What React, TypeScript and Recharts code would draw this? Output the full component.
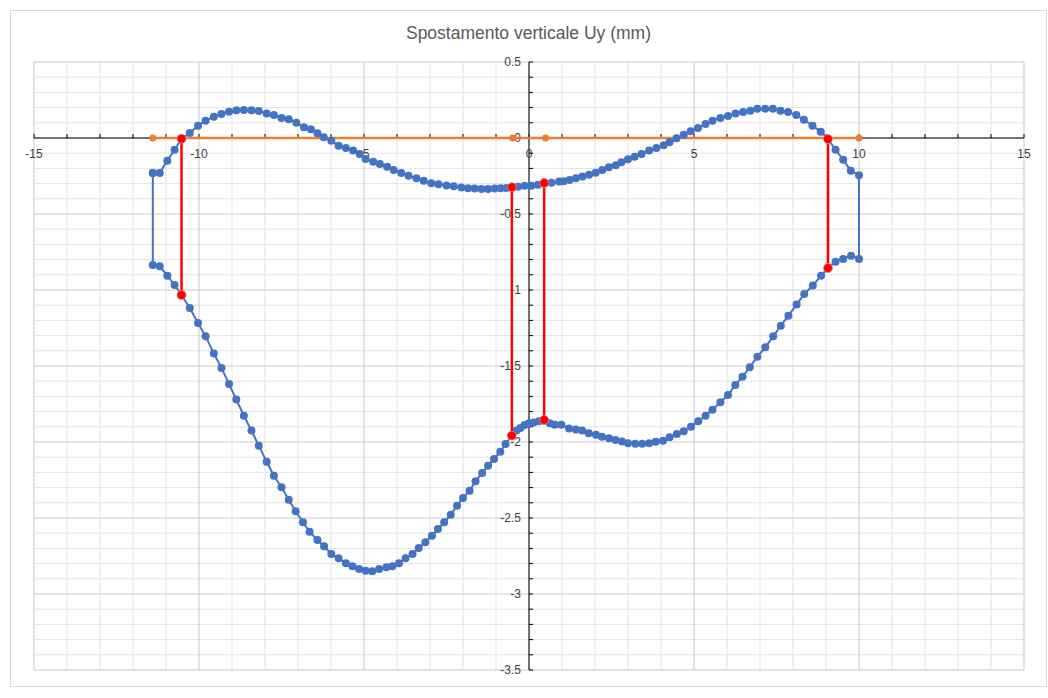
import React from 'react';
import {
  ReferenceDot,
  ReferenceLine,
  Scatter,
  ScatterChart,
  XAxis,
  YAxis,
} from 'recharts';

// upper branch of the deformed profile, read left to right
const upperX = [
  -11.4, -11.19, -10.96, -10.74, -10.53, -10.28, -10.03, -9.8, -9.55, -9.32, -9.09, -8.87, -8.64, -8.41,
  -8.19, -7.95, -7.73, -7.5, -7.28, -7.05, -6.82, -6.61, -6.41, -6.22, -5.99, -5.77, -5.55, -5.33,
  -5.13, -4.95, -4.72, -4.52, -4.3, -4.1, -3.87, -3.65, -3.41, -3.19, -2.96, -2.74, -2.5, -2.28,
  -2.05, -1.85, -1.65, -1.44, -1.24, -1.04, -0.86, -0.69, -0.52, -0.33, -0.13, 0.07, 0.27, 0.48,
  0.68, 0.91, 1.05, 1.23, 1.42, 1.62, 1.82, 2.02, 2.22, 2.42, 2.63, 2.8, 3.0, 3.2, 3.41, 3.64, 3.86,
  4.08, 4.26, 4.47, 4.69, 4.9, 5.12, 5.35, 5.56, 5.8, 6.03, 6.26, 6.49, 6.71, 6.92, 7.16, 7.39, 7.62,
  7.85, 8.1, 8.33, 8.59, 8.84, 9.06, 9.29, 9.52, 9.75, 10,
];
const upperY = [
  -0.23, -0.23, -0.149, -0.077, -0.005, 0.033, 0.081, 0.114, 0.14, 0.158, 0.173, 0.182, 0.184, 0.182,
  0.178, 0.162, 0.151, 0.132, 0.123, 0.101, 0.07, 0.057, 0.031, 0.005, -0.018, -0.051, -0.066, -0.083,
  -0.105, -0.138, -0.156, -0.171, -0.189, -0.211, -0.23, -0.248, -0.265, -0.281, -0.298, -0.305, -0.312,
  -0.318, -0.326, -0.33, -0.333, -0.336, -0.336, -0.333, -0.331, -0.329, -0.324, -0.32, -0.314, -0.314,
  -0.307, -0.296, -0.294, -0.287, -0.284, -0.276, -0.265, -0.254, -0.241, -0.228, -0.211, -0.193, -0.18,
  -0.16, -0.14, -0.123, -0.105, -0.083, -0.066, -0.048, -0.028, -0.002, 0.022, 0.044, 0.066, 0.092,
  0.114, 0.132, 0.145, 0.162, 0.171, 0.18, 0.193, 0.193, 0.193, 0.18, 0.171, 0.151, 0.12, 0.081, 0.041,
  -0.007, -0.077, -0.143, -0.215, -0.245,
];

// lower branch, read right to left (closes back on the first upper point)
const lowerX = [
  10, 9.76, 9.52, 9.29, 9.06, 8.85, 8.6, 8.34, 8.11, 7.86, 7.63, 7.4, 7.16, 6.92, 6.69, 6.47, 6.25,
  6.03, 5.8, 5.56, 5.35, 5.13, 4.91, 4.69, 4.48, 4.26, 4.06, 3.84, 3.64, 3.43, 3.22, 3.0, 2.82, 2.62,
  2.42, 2.21, 2.03, 1.81, 1.61, 1.42, 1.21, 0.98, 0.78, 0.63, 0.46, 0.3, 0.14, 0, -0.13, -0.26, -0.38,
  -0.53, -0.71, -0.87, -1.06, -1.24, -1.42, -1.62, -1.8, -2.0, -2.18, -2.37, -2.57, -2.76, -2.94,
  -3.14, -3.34, -3.53, -3.74, -3.94, -4.14, -4.32, -4.54, -4.75, -4.95, -5.15, -5.35, -5.55, -5.77,
  -5.99, -6.21, -6.41, -6.65, -6.85, -7.07, -7.28, -7.5, -7.73, -7.95, -8.19, -8.41, -8.64, -8.87,
  -9.09, -9.32, -9.55, -9.8, -10.03, -10.28, -10.53, -10.74, -10.96, -11.19, -11.4, -11.4,
];
const lowerY = [
  -0.796, -0.774, -0.796, -0.814, -0.855, -0.906, -0.971, -1.026, -1.096, -1.169, -1.235, -1.305, -1.377,
  -1.439, -1.509, -1.57, -1.625, -1.691, -1.739, -1.788, -1.827, -1.864, -1.899, -1.93, -1.947, -1.969,
  -1.991, -1.998, -2.009, -2.012, -2.012, -2.009, -1.996, -1.987, -1.976, -1.965, -1.952, -1.943,
  -1.925, -1.917, -1.912, -1.886, -1.886, -1.877, -1.855, -1.864, -1.871, -1.877, -1.888, -1.908,
  -1.925, -1.958, -2.013, -2.064, -2.112, -2.156, -2.204, -2.259, -2.32, -2.368, -2.419, -2.478, -2.528,
  -2.572, -2.616, -2.66, -2.697, -2.737, -2.765, -2.798, -2.818, -2.824, -2.836, -2.851, -2.847,
  -2.836, -2.818, -2.798, -2.765, -2.737, -2.686, -2.645, -2.59, -2.528, -2.456, -2.38, -2.298, -2.222,
  -2.13, -2.024, -1.925, -1.827, -1.721, -1.618, -1.513, -1.417, -1.305, -1.217, -1.118, -1.033,
  -0.967, -0.906, -0.844, -0.836, -0.23,
];

// original (undeformed) line
const baseX = [-11.4, -0.5, 0.5, 10];
const baseY = [0, 0, 0, 0];

// red verticals: [x, yTop, yBottom]
const redLeft = [-10.53, -0.005, -1.033];
const redMidL = [-0.52, -0.324, -1.958];
const redMidR = [0.46, -0.296, -1.855];
const redRight = [9.06, -0.007, -0.855];

const xMinorTicks = [
  -15, -14, -13, -12, -11, -10, -9, -8, -7, -6, -5, -4, -3, -2, -1, 0, 1, 2, 3, 4, 5, 6, 7, 8, 9, 10,
  11, 12, 13, 14, 15,
];
const xMajorTicks = [-15, -10, -5, 0, 5, 10, 15];
const yMinorTicks = [
  0.5, 0.4, 0.3, 0.2, 0.1, 0, -0.1, -0.2, -0.3, -0.4, -0.5, -0.6, -0.7, -0.8, -0.9, -1, -1.1, -1.2,
  -1.3, -1.4, -1.5, -1.6, -1.7, -1.8, -1.9, -2, -2.1, -2.2, -2.3, -2.4, -2.5, -2.6, -2.7, -2.8, -2.9,
  -3, -3.1, -3.2, -3.3, -3.4, -3.5,
];
const yMajorTicks = [0.5, 0, -0.5, -1, -1.5, -2, -2.5, -3, -3.5];

const pts = (xs: number[], ys: number[]) => xs.map((x, i) => ({ x, y: ys[i] }));
const seg = (s: number[]) => [{ x: s[0], y: s[1] }, { x: s[0], y: s[2] }];

const blueData = pts(upperX, upperY).concat(pts(lowerX, lowerY));
const baseData = pts(baseX, baseY);
const redSegments = [redLeft, redMidL, redMidR, redRight].map(seg);

const BLUE = '#4472C4';
const RED = '#FF0000';
const ORANGE = '#ED7D31';
const FONT = '"Liberation Sans", Arial, sans-serif';
const GRID_MINOR = '#e3e3e3';
const GRID_MAJOR = '#c9c9c9';

const dot = (color: string, r: number, stroke?: string) => (p: any) => (
  <circle cx={p.cx} cy={p.cy} r={r} fill={color} stroke={stroke ?? 'none'} strokeWidth={0.8} />
);

export default function App() {
  return (
    <div style={{ position: 'absolute', left: 0, top: 0, width: 1048, height: 698, background: '#fff' }}>
      <div
        style={{
          position: 'absolute', left: 10, top: 10, width: 1035, height: 675,
          border: '1px solid #d9d9d9',
        }}
      />
      <div
        style={{
          position: 'absolute', left: 10, top: 23, width: 1037, textAlign: 'center',
          fontFamily: FONT, fontSize: 17.5, color: '#595959',
        }}
      >
        Spostamento verticale Uy (mm)
      </div>
      <div style={{ position: 'absolute', left: 0, top: 0 }}>
        <ScatterChart width={1048} height={698} margin={{ top: 62, right: 24, bottom: 28, left: 34 }}>
          <XAxis type="number" dataKey="x" domain={[-15, 15]} ticks={xMajorTicks}
            allowDataOverflow hide />
          <YAxis type="number" dataKey="y" domain={[-3.5, 0.5]} ticks={yMajorTicks}
            allowDataOverflow hide />

          {/* gridlines: minor every 1 / 0.1, major every 5 / 0.5 */}
          {xMinorTicks.filter((v) => !xMajorTicks.includes(v)).map((v) => (
            <ReferenceLine key={'gx' + v} x={v} stroke={GRID_MINOR} strokeWidth={1} />
          ))}
          {yMinorTicks.filter((v) => !yMajorTicks.includes(v)).map((v) => (
            <ReferenceLine key={'gy' + v} y={v} stroke={GRID_MINOR} strokeWidth={1} />
          ))}
          {xMajorTicks.map((v) => (
            <ReferenceLine key={'GX' + v} x={v} stroke={GRID_MAJOR} strokeWidth={1} />
          ))}
          {yMajorTicks.map((v) => (
            <ReferenceLine key={'GY' + v} y={v} stroke={GRID_MAJOR} strokeWidth={1} />
          ))}

          {/* axes crossing at the origin */}
          <ReferenceLine y={0} stroke="#000" strokeWidth={1} />
          <ReferenceLine x={0} stroke="#000" strokeWidth={1} />
          {xMinorTicks.map((v) => (
            <ReferenceDot key={'xt' + v} x={v} y={0} ifOverflow="visible"
              shape={(p: any) => (
                <g>
                  <line x1={p.cx} x2={p.cx} y1={p.cy - 4} y2={p.cy} stroke="#000" />
                  {xMajorTicks.includes(v) && (
                    <text x={p.cx} y={p.cy + 20} textAnchor="middle" fontFamily={FONT} fontSize={12} fill="#404040">
                      {v}
                    </text>
                  )}
                </g>
              )}
            />
          ))}
          {yMinorTicks.map((v) => (
            <ReferenceDot key={'yt' + v} x={0} y={v} ifOverflow="visible"
              shape={(p: any) => (
                <g>
                  <line x1={p.cx} x2={p.cx + 4} y1={p.cy} y2={p.cy} stroke="#000" />
                  {yMajorTicks.includes(v) && (
                    <text x={p.cx - 8} y={p.cy + 4} textAnchor="end" fontFamily={FONT} fontSize={12} fill="#404040">
                      {v}
                    </text>
                  )}
                </g>
              )}
            />
          ))}

          <Scatter data={baseData} line={{ stroke: ORANGE, strokeWidth: 2.5 }}
            lineType="joint" shape={dot(ORANGE, 3.5)} isAnimationActive={false} />
          <Scatter data={blueData} line={{ stroke: BLUE, strokeWidth: 2 }}
            lineType="joint" shape={dot(BLUE, 4)} isAnimationActive={false} />
          {redSegments.map((d, i) => (
            <Scatter key={'r' + i} data={d} line={{ stroke: RED, strokeWidth: 2.5 }}
              lineType="joint" shape={dot(RED, 4.5, '#e08a8a')} isAnimationActive={false} />
          ))}
        </ScatterChart>
      </div>
    </div>
  );
}
